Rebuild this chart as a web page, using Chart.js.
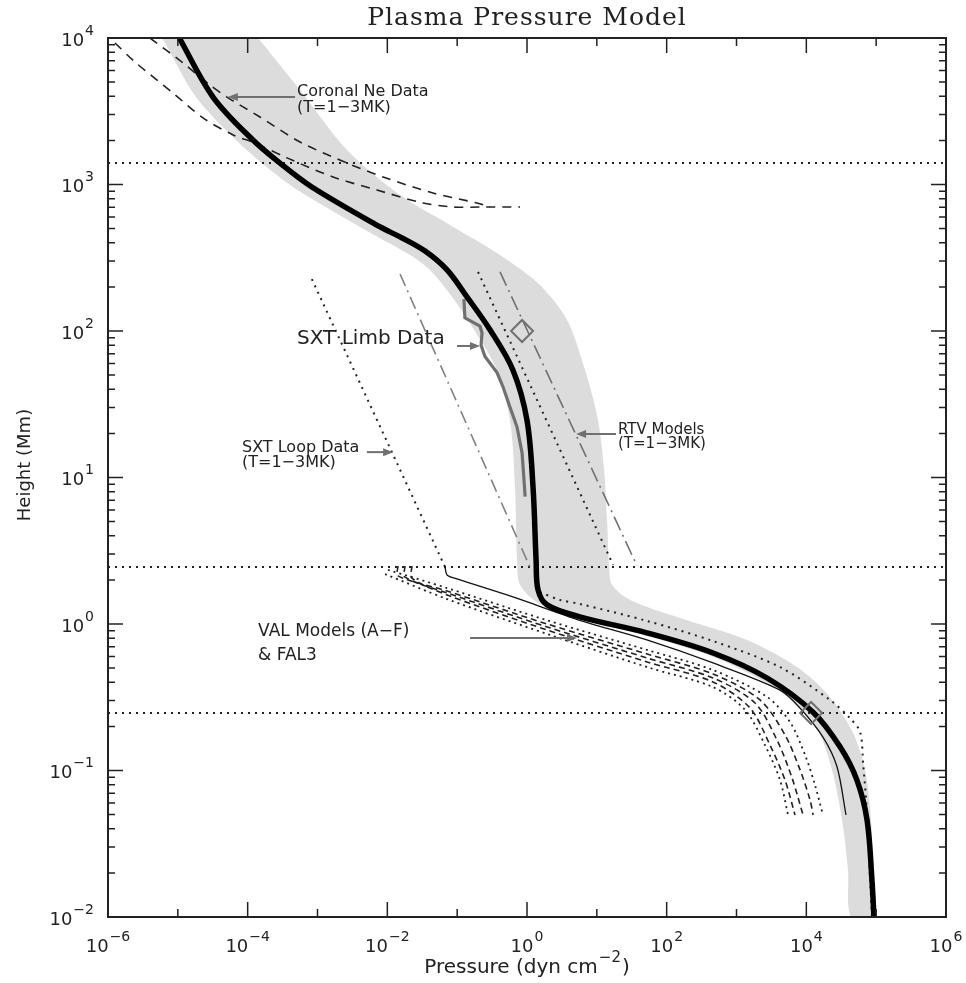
<!DOCTYPE html>
<html>
<head>
<meta charset="utf-8">
<script src="https://cdn.jsdelivr.net/npm/chart.js@4.4.0/dist/chart.umd.min.js"></script>
<style>
  html, body { margin: 0; padding: 0; background: #fff; }
  canvas { display: block; }
</style>
</head>
<body>
<canvas id="chart" width="966" height="983"></canvas>
<script>
// pressure P (dyn cm^-2) vs height H (Mm)

// tick labels (powers of ten)
const xTickVals = [1e-6, 1e-4, 1e-2, 1, 1e2, 1e4, 1e6];
const xTickExp = ['−6', '−4', '−2', '0', '2', '4', '6'];
const yTickVals = [1e4, 1e3, 1e2, 1e1, 1, 1e-1, 1e-2];
const yTickExp = ['4', '3', '2', '1', '0', '−1', '−2'];

// model curve (thick black)
const mainP = [1.05e-5, 3.19e-5, 1.19e-4, 2.9e-4, 8.3e-4, 7.9e-3, 0.0152, 0.0347, 0.0716, 0.138, 0.295, 0.63, 1.0, 1.22, 1.35, 1.44, 1.94, 5.7, 52, 461, 2740, 1.25e4, 3.04e4, 5.3e4, 7.4e4, 8.7e4, 9.3e4];
const mainH = [1e4, 3950, 2010, 1400, 962, 513, 439, 351, 261, 171, 102, 54, 24.6, 8.6, 2.73, 1.71, 1.35, 1.12, 0.87, 0.634, 0.428, 0.25, 0.145, 0.086, 0.046, 0.0179, 0.01];

// grey uncertainty band
const bandLeftP = [6.0e-6, 1.82e-5, 6.8e-5, 1.6e-4, 4.46e-4, 4.06e-3, 0.0211, 0.0408, 0.0844, 0.174, 0.372, 0.571, 0.673, 0.72, 0.794, 1.44, 5.74, 52.4, 461, 2740, 8130, 1.47e4, 2.33e4, 3.25e4, 3.95e4, 4.37e4];
const bandLeftH = [1e4, 3950, 2010, 1400, 962, 513, 330, 261, 171, 102, 54, 24.6, 8.6, 2.73, 1.85, 1.39, 1.08, 0.828, 0.596, 0.395, 0.271, 0.189, 0.101, 0.046, 0.021, 0.01];
const bandRightP = [1.41e-4, 5.62e-4, 2.65e-3, 0.0152, 0.079, 0.411, 1.53, 3.74, 6.78, 10.4, 12.7, 14.0, 15.0, 16.5, 29.9, 155, 1420, 7360, 2.18e4, 4.67e4, 6.93e4, 8.45e4, 9.0e4, 9.3e4];
const bandRightH = [1e4, 4420, 1720, 847, 530, 330, 206, 119, 54.2, 24.6, 11.2, 5.13, 2.45, 1.85, 1.46, 1.10, 0.778, 0.508, 0.318, 0.18, 0.101, 0.046, 0.021, 0.01];

// coronal Ne data (dashed)
const neLowP = [1.26e-6, 2.44e-6, 8.5e-6, 2.29e-5, 6.2e-5, 1.27e-4, 3.66e-4, 1.67e-3, 7.1e-3, 0.0324, 0.0873, 0.234, 0.794];
const neLowH = [9250, 6850, 4220, 2850, 2180, 1920, 1520, 1125, 917, 748, 702, 702, 702];
const neHighP = [3.99e-6, 1.19e-5, 2.89e-5, 5.06e-5, 1.5e-4, 5.62e-4, 2.65e-3, 8.7e-3, 0.0451, 0.192, 0.295];
const neHighH = [1e4, 6750, 4770, 3950, 2890, 1950, 1400, 1125, 875, 748, 702];

// SXT limb data
const limbP = [0.125, 0.129, 0.212, 0.227, 0.22, 0.25, 0.372, 0.454, 0.57, 0.72, 0.85, 0.906, 0.94];
const limbH = [165, 123, 108, 97, 80, 67, 52, 41.5, 30.3, 22.1, 14.7, 9.6, 7.4];
const limbFitP = [0.0152, 1.10];
const limbFitH = [245, 2.45];

// SXT loop data and its continuation
const loopP = [8.3e-4, 0.067];
const loopH = [226, 2.45];
const loopLowP = [0.067, 0.0716, 0.0995, 0.63, 5.7, 52, 461, 4200, 8100, 1.73e4, 2.75e4, 3.7e4];
const loopLowH = [2.45, 2.16, 2.03, 1.53, 1.06, 0.778, 0.542, 0.354, 0.267, 0.169, 0.106, 0.0497];

// RTV models
const rtvDotP = [0.199, 17.1];
const rtvDotH = [253, 2.53];
const rtvDashP = [0.411, 37.7];
const rtvDashH = [253, 2.49];

// VAL models (A-F) & FAL3
const valUpP = [0.0102, 0.0716, 1.94, 52.4, 461, 2740, 5840, 9570, 1.33e4, 1.73e4];
const valUpH = [2.34, 1.76, 1.06, 0.665, 0.485, 0.318, 0.214, 0.128, 0.0796, 0.0497];
const valBP = [0.0142, 0.0142, 0.0716, 1.94, 52.4, 461, 2170, 4950, 8130, 1.13e4, 1.25e4];
const valBH = [2.49, 2.13, 1.68, 1.0, 0.624, 0.456, 0.303, 0.175, 0.101, 0.063, 0.0497];
const valCP = [0.0179, 0.0179, 0.0716, 1.94, 52.4, 461, 1840, 3810, 6240, 8970];
const valCH = [2.49, 2.09, 1.63, 0.955, 0.586, 0.428, 0.289, 0.161, 0.089, 0.0497];
const valDP = [0.0225, 0.0225, 0.0716, 1.94, 52.4, 461, 1560, 3020, 4950, 6890];
const valDH = [2.49, 2.06, 1.58, 0.91, 0.551, 0.402, 0.267, 0.149, 0.086, 0.0497];
const valLowP = [0.00927, 0.0716, 1.94, 52.4, 461, 1330, 2560, 4200, 5470];
const valLowH = [2.19, 1.48, 0.855, 0.508, 0.371, 0.259, 0.149, 0.086, 0.0497];
const chromP = [1.53, 2.97, 5.74, 52, 461, 4200, 2.18e4, 4.2e4, 5.9e4, 6.5e4, 7.4e4, 8.2e4, 8.7e4];
const chromH = [1.65, 1.46, 1.37, 1.05, 0.765, 0.508, 0.303, 0.228, 0.183, 0.112, 0.051, 0.0179, 0.01];

// diamonds and reference heights
const diamondP = [0.85, 1.17e4];
const diamondH = [100, 0.247];
const levelH = [1400, 2.45, 0.247];

// labels: text anchored at (p, h), arrows from p0 to p1 at height h
const notes = [
  { lines: ['Coronal Ne Data', '(T=1−3MK)'], p: 5.1e-4, h: [4280, 3330], size: 16 },
  { lines: ['SXT Limb Data'], p: 5.1e-4, h: [88], size: 20 },
  { lines: ['SXT Loop Data', '(T=1−3MK)'], p: 8.3e-5, h: [15.9, 12.6], size: 16 },
  { lines: ['RTV Models', '(T=1−3MK)'], p: 20.1, h: [21.1, 16.9], size: 15 },
  { lines: ['VAL Models (A−F)', '& FAL3'], p: 1.41e-4, h: [0.881, 0.605], size: 17 }
];
const arrows = [
  { p0: 4.77e-4, p1: 5.2e-5, h: 3950 },
  { p0: 0.0996, p1: 0.212, h: 79 },
  { p0: 5.1e-3, p1: 0.0121, h: 14.9 },
  { p0: 18.8, p1: 5.04, h: 19.8 },
  { p0: 0.153, p1: 5.2, h: 0.802 }
];

function pts(P, H) {
  return P.map(function (p, i) { return { x: p, y: H[i] }; });
}

function curve(data, color, width, dash, tension, order) {
  return {
    data: data,
    borderColor: color,
    borderWidth: width,
    borderDash: dash,
    pointRadius: 0,
    fill: false,
    tension: tension,
    order: order
  };
}

const DOT = [2, 5];
const bandData = pts(bandLeftP, bandLeftH).concat(pts(bandRightP, bandRightH).reverse());

const datasets = [
  {
    data: bandData, fill: 'shape', backgroundColor: '#dcdcdc',
    borderWidth: 0, borderColor: 'rgba(0,0,0,0)', pointRadius: 0, tension: 0.3, order: 20
  },
  curve(pts([1e-6, 1e6], [levelH[0], levelH[0]]), '#222', 2, DOT, 0, 8),
  curve(pts([1e-6, 1e6], [levelH[1], levelH[1]]), '#222', 2, DOT, 0, 8),
  curve(pts([1e-6, 1e6], [levelH[2], levelH[2]]), '#222', 2, DOT, 0, 8),
  curve(pts(neLowP, neLowH), '#222', 1.6, [9, 7], 0.3, 6),
  curve(pts(neHighP, neHighH), '#222', 1.6, [9, 7], 0.3, 6),
  curve(pts(limbFitP, limbFitH), '#808080', 1.6, [13, 5, 2, 5], 0, 6),
  curve(pts(rtvDotP, rtvDotH), '#222', 2, DOT, 0, 6),
  curve(pts(rtvDashP, rtvDashH), '#707070', 1.6, [15, 5, 2, 5], 0, 6),
  curve(pts(loopP, loopH), '#222', 2, DOT, 0, 6),
  curve(pts(loopLowP, loopLowH), '#111', 1.3, [], 0.3, 5),
  curve(pts(valUpP, valUpH), '#222', 1.8, [2, 4], 0.3, 6),
  curve(pts(valBP, valBH), '#222', 1.6, [6, 4], 0.3, 6),
  curve(pts(valCP, valCH), '#222', 1.6, [6, 4], 0.3, 6),
  curve(pts(valDP, valDH), '#222', 1.6, [6, 4], 0.3, 6),
  curve(pts(valLowP, valLowH), '#222', 1.8, [2, 4], 0.3, 6),
  curve(pts(chromP, chromH), '#222', 2, DOT, 0.3, 6),
  curve(pts(limbP, limbH), '#707070', 3.2, [], 0, 3),
  curve(pts(mainP, mainH), '#000', 5.5, [], 0.35, 1),
  {
    data: pts(diamondP, diamondH), showLine: false, pointStyle: 'rectRot',
    pointRadius: 11, borderColor: '#707070', borderWidth: 2,
    backgroundColor: 'rgba(0,0,0,0)', order: 0
  }
];

function powLabel(c, exp, x, y, align) {
  c.font = '18px "DejaVu Sans"';
  const wb = c.measureText('10').width;
  c.font = '14px "DejaVu Sans"';
  const we = c.measureText(exp).width;
  const w = wb + we + 1;
  const x0 = align === 'center' ? x - w / 2 : x - w;
  c.textAlign = 'left';
  c.textBaseline = 'middle';
  c.font = '18px "DejaVu Sans"';
  c.fillText('10', x0, y);
  c.font = '14px "DejaVu Sans"';
  c.fillText(exp, x0 + wb + 1, y - 10);
}

const decor = {
  id: 'decor',
  afterDraw: function (chart) {
    const c = chart.ctx;
    const a = chart.chartArea;
    const sx = chart.scales.x;
    const sy = chart.scales.y;
    c.save();

    // frame
    c.strokeStyle = '#222';
    c.lineWidth = 2;
    c.strokeRect(a.left, a.top, a.right - a.left, a.bottom - a.top);

    // x ticks: every decade, longer at labelled ones
    c.lineWidth = 1.5;
    for (let e = -6; e <= 6; e++) {
      const px = sx.getPixelForValue(Math.pow(10, e));
      const len = (e % 2 === 0) ? 15 : 8;
      c.beginPath();
      c.moveTo(px, a.bottom); c.lineTo(px, a.bottom - len);
      c.moveTo(px, a.top); c.lineTo(px, a.top + len);
      c.stroke();
    }
    // y ticks: decades and minors
    for (let e = -2; e <= 4; e++) {
      for (let m = 1; m <= 9; m++) {
        if (e === 4 && m > 1) break;
        const py = sy.getPixelForValue(m * Math.pow(10, e));
        const len = m === 1 ? 15 : 7;
        c.beginPath();
        c.moveTo(a.left, py); c.lineTo(a.left + len, py);
        c.moveTo(a.right, py); c.lineTo(a.right - len, py);
        c.stroke();
      }
    }

    // tick labels
    c.fillStyle = '#222';
    xTickVals.forEach(function (v, i) {
      powLabel(c, xTickExp[i], sx.getPixelForValue(v), a.bottom + 30, 'center');
    });
    yTickVals.forEach(function (v, i) {
      powLabel(c, yTickExp[i], a.left - 14, sy.getPixelForValue(v) + 3, 'right');
    });

    // title
    c.textAlign = 'center';
    c.textBaseline = 'middle';
    c.font = '25px "DejaVu Serif"';
    c.letterSpacing = '1px';
    c.fillText('Plasma Pressure Model', (a.left + a.right) / 2, 18);
    c.letterSpacing = '0px';

    // x axis title with superscript
    c.font = '20px "DejaVu Sans"';
    const t1 = 'Pressure (dyn cm', t3 = ')';
    const w1 = c.measureText(t1).width, w3 = c.measureText(t3).width;
    c.font = '15px "DejaVu Sans"';
    const t2 = '−2', w2 = c.measureText(t2).width;
    let x0 = (a.left + a.right) / 2 - (w1 + w2 + w3 + 2) / 2;
    c.textAlign = 'left';
    c.font = '20px "DejaVu Sans"';
    c.fillText(t1, x0, 968);
    c.font = '15px "DejaVu Sans"';
    c.fillText(t2, x0 + w1 + 1, 958);
    c.font = '20px "DejaVu Sans"';
    c.fillText(t3, x0 + w1 + w2 + 2, 968);

    // y axis title
    c.save();
    c.translate(25, 465);
    c.rotate(-Math.PI / 2);
    c.textAlign = 'center';
    c.font = '18px "DejaVu Sans"';
    c.fillText('Height (Mm)', 0, 0);
    c.restore();

    // annotations
    c.textAlign = 'left';
    notes.forEach(function (n) {
      c.font = n.size + 'px "DejaVu Sans"';
      n.lines.forEach(function (s, k) {
        c.fillText(s, sx.getPixelForValue(n.p), sy.getPixelForValue(n.h[k]));
      });
    });
    c.strokeStyle = '#707070';
    c.fillStyle = '#707070';
    c.lineWidth = 2;
    arrows.forEach(function (ar) {
      const xa = sx.getPixelForValue(ar.p0), xb = sx.getPixelForValue(ar.p1);
      const y = sy.getPixelForValue(ar.h);
      const d = xb > xa ? 1 : -1;
      c.beginPath();
      c.moveTo(xa, y); c.lineTo(xb - d * 6, y);
      c.stroke();
      c.beginPath();
      c.moveTo(xb, y); c.lineTo(xb - d * 10, y - 4); c.lineTo(xb - d * 10, y + 4);
      c.closePath();
      c.fill();
    });
    c.restore();
  }
};

new Chart(document.getElementById('chart').getContext('2d'), {
  type: 'line',
  data: { datasets: datasets },
  options: {
    responsive: false,
    animation: false,
    events: [],
    layout: { padding: { left: 108, right: 20, top: 38, bottom: 66 } },
    plugins: { legend: { display: false }, tooltip: { enabled: false } },
    scales: {
      x: { type: 'logarithmic', min: 1e-6, max: 1e6, display: false },
      y: { type: 'logarithmic', min: 1e-2, max: 1e4, display: false }
    }
  },
  plugins: [decor]
});
</script>
</body>
</html>
